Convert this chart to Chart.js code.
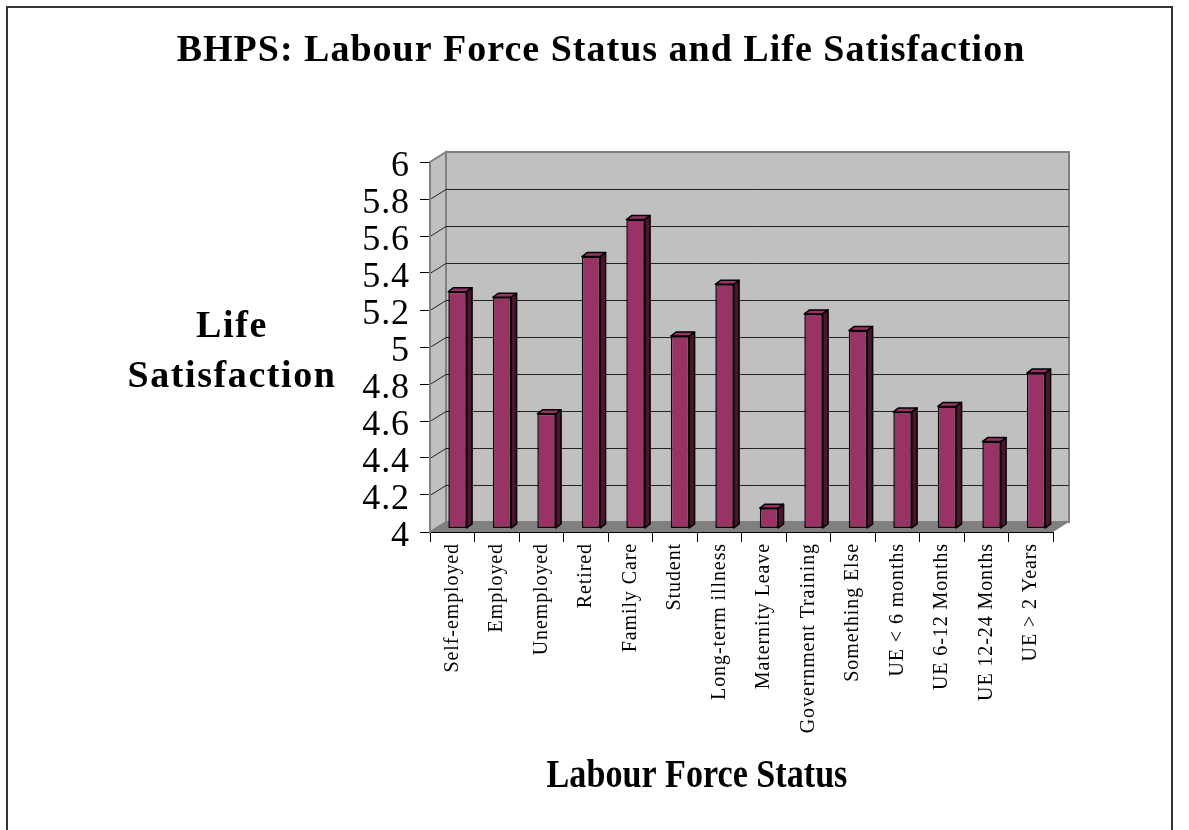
<!DOCTYPE html>
<html lang="en">
  <head>
    <meta charset="UTF-8" />
    <title>BHPS: Labour Force Status and Life Satisfaction</title>
    <style>
      body {
        margin: 0;
        background: #fff;
      }
      canvas {
        display: block;
      }
    </style>
    <script src="https://cdn.jsdelivr.net/npm/chart.js"></script>
  </head>
  <body>
    <canvas id="lfsChart" width="1189" height="830"></canvas>

    <script>
      // data
      const statusLabels = [
        "Self-employed",
        "Employed",
        "Unemployed",
        "Retired",
        "Family Care",
        "Student",
        "Long-term illness",
        "Maternity Leave",
        "Government Training",
        "Something Else",
        "UE < 6 months",
        "UE 6-12 Months",
        "UE 12-24 Months",
        "UE > 2 Years",
      ];
      const lifeSatisfaction = [
        5.28, 5.25, 4.62, 5.47, 5.67, 5.04, 5.32, 4.11, 5.16, 5.07, 4.63, 4.66,
        4.47, 4.84,
      ];
      const yMin = 4;
      const yMax = 6;
      const yStep = 0.2;

      const serif = '"Liberation Serif", "Times New Roman", serif';

      // 3d look: depth of the walls and of the bars
      const WALL_DX = 16;
      const WALL_DY = -10;
      const BAR_SHIFT_X = 5.3;
      const BAR_SHIFT_Y = -3.5;
      const BAR_DX = 5.3;
      const BAR_DY = -4;

      function drawStretched(ctx, text, x, y, font, sx, spacing) {
        ctx.save();
        ctx.font = font;
        ctx.letterSpacing = spacing;
        ctx.fillStyle = "#000";
        ctx.textAlign = "center";
        ctx.textBaseline = "alphabetic";
        ctx.translate(x, y);
        ctx.scale(sx, 1);
        ctx.fillText(text, 0, 0);
        ctx.restore();
      }

      const excel3d = {
        id: "excel3d",
        beforeDraw(chart) {
          const { ctx, chartArea: a } = chart;
          const yScale = chart.scales.y;
          ctx.save();
          ctx.fillStyle = "#fff";
          ctx.fillRect(0, 0, chart.width, chart.height);

          // outer frame
          ctx.strokeStyle = "#333";
          ctx.lineWidth = 2;
          ctx.beginPath();
          ctx.moveTo(7, chart.height + 5);
          ctx.lineTo(7, 7);
          ctx.lineTo(1172, 7);
          ctx.lineTo(1172, chart.height + 5);
          ctx.stroke();

          // back wall
          ctx.fillStyle = "#c0c0c0";
          ctx.strokeStyle = "#808080";
          ctx.lineWidth = 2;
          ctx.fillRect(a.left + WALL_DX, a.top + WALL_DY, a.width, a.height);
          ctx.strokeRect(a.left + WALL_DX, a.top + WALL_DY, a.width, a.height);

          // side wall
          ctx.beginPath();
          ctx.moveTo(a.left, a.top);
          ctx.lineTo(a.left + WALL_DX, a.top + WALL_DY);
          ctx.lineTo(a.left + WALL_DX, a.bottom + WALL_DY);
          ctx.lineTo(a.left, a.bottom);
          ctx.closePath();
          ctx.fill();
          ctx.stroke();

          // floor
          ctx.fillStyle = "#808080";
          ctx.beginPath();
          ctx.moveTo(a.left, a.bottom);
          ctx.lineTo(a.left + WALL_DX, a.bottom + WALL_DY);
          ctx.lineTo(a.right + WALL_DX, a.bottom + WALL_DY);
          ctx.lineTo(a.right, a.bottom);
          ctx.closePath();
          ctx.fill();

          // gridlines on the back wall and the side wall
          ctx.lineWidth = 1;
          yScale.ticks.forEach((t) => {
            if (t.value <= yMin + 1e-9 || t.value >= yMax - 1e-9) return;
            const y = Math.round(yScale.getPixelForValue(t.value)) + 0.5;
            ctx.strokeStyle = "#222";
            ctx.beginPath();
            ctx.moveTo(a.left + WALL_DX, y + WALL_DY);
            ctx.lineTo(a.right + WALL_DX, y + WALL_DY);
            ctx.stroke();
            ctx.beginPath();
            ctx.moveTo(a.left, y);
            ctx.lineTo(a.left + WALL_DX, y + WALL_DY);
            ctx.stroke();
          });
          ctx.restore();

          // Excel spaces its letters a bit wider
          ctx.letterSpacing = "0.9px";
        },
        beforeDatasetsDraw(chart) {
          chart.ctx.save();
          chart.ctx.translate(BAR_SHIFT_X, BAR_SHIFT_Y);
        },
        afterDatasetsDraw(chart) {
          const ctx = chart.ctx;
          ctx.lineWidth = 1.5;
          ctx.strokeStyle = "#000";
          ctx.lineJoin = "round";
          chart.getDatasetMeta(0).data.forEach((bar) => {
            const l = bar.x - bar.width / 2;
            const r = bar.x + bar.width / 2;
            const t = bar.y;
            const b = bar.base;
            // top face
            ctx.fillStyle = "#993366";
            ctx.beginPath();
            ctx.moveTo(l, t);
            ctx.lineTo(l + BAR_DX, t + BAR_DY);
            ctx.lineTo(r + BAR_DX, t + BAR_DY);
            ctx.lineTo(r, t);
            ctx.closePath();
            ctx.fill();
            ctx.stroke();
            // side face
            ctx.fillStyle = "#4d1430";
            ctx.beginPath();
            ctx.moveTo(r, t);
            ctx.lineTo(r + BAR_DX, t + BAR_DY);
            ctx.lineTo(r + BAR_DX, b + BAR_DY);
            ctx.lineTo(r, b);
            ctx.closePath();
            ctx.fill();
            ctx.stroke();
          });
          ctx.restore();
        },
        afterDraw(chart) {
          const ctx = chart.ctx;
          ctx.letterSpacing = "0px";
          drawStretched(
            ctx,
            "BHPS: Labour Force Status and Life Satisfaction",
            601,
            61,
            "bold 38px " + serif,
            1,
            "1px"
          );
          drawStretched(ctx, "Life", 232, 337, "bold 38px " + serif, 1, "1.6px");
          drawStretched(ctx, "Satisfaction", 232, 387, "bold 38px " + serif, 1, "1.6px");
          drawStretched(ctx, "Labour Force Status", 697, 787, "bold 40px " + serif, 0.853, "0px");
        },
      };

      const ctx = document.getElementById("lfsChart").getContext("2d");
      new Chart(ctx, {
        type: "bar",
        data: {
          labels: statusLabels,
          datasets: [
            {
              label: "Life Satisfaction",
              data: lifeSatisfaction,
              base: yMin,
              backgroundColor: "#993366",
              borderColor: "#000",
              borderWidth: 1.5,
              borderSkipped: false,
              barPercentage: 0.415,
              categoryPercentage: 1,
            },
          ],
        },
        options: {
          responsive: false,
          animation: false,
          devicePixelRatio: 1,
          layout: {
            padding: { top: 162, left: 330, right: 136, bottom: 0 },
          },
          plugins: {
            legend: { display: false },
            tooltip: { enabled: false },
          },
          scales: {
            x: {
              grid: {
                offset: true,
                drawOnChartArea: false,
                color: "#000",
                tickLength: 10,
              },
              border: { color: "#000", width: 1 },
              ticks: {
                minRotation: 90,
                maxRotation: 90,
                autoSkip: false,
                padding: 1,
                color: "#000",
                font: { family: serif, size: 20 },
              },
              afterFit(scale) {
                scale.height = 298;
              },
            },
            y: {
              min: yMin,
              max: yMax,
              grid: {
                drawOnChartArea: false,
                color: "#000",
                tickLength: 10,
              },
              border: { color: "#808080", width: 2 },
              ticks: {
                stepSize: yStep,
                autoSkip: false,
                padding: 10,
                labelOffset: 5,
                color: "#000",
                font: { family: serif, size: 36, lineHeight: 1 },
                callback: (v) => String(+v.toFixed(1)),
              },
              afterFit(scale) {
                scale.width = 100;
              },
            },
          },
        },
        plugins: [excel3d],
      });
    </script>
  </body>
</html>
